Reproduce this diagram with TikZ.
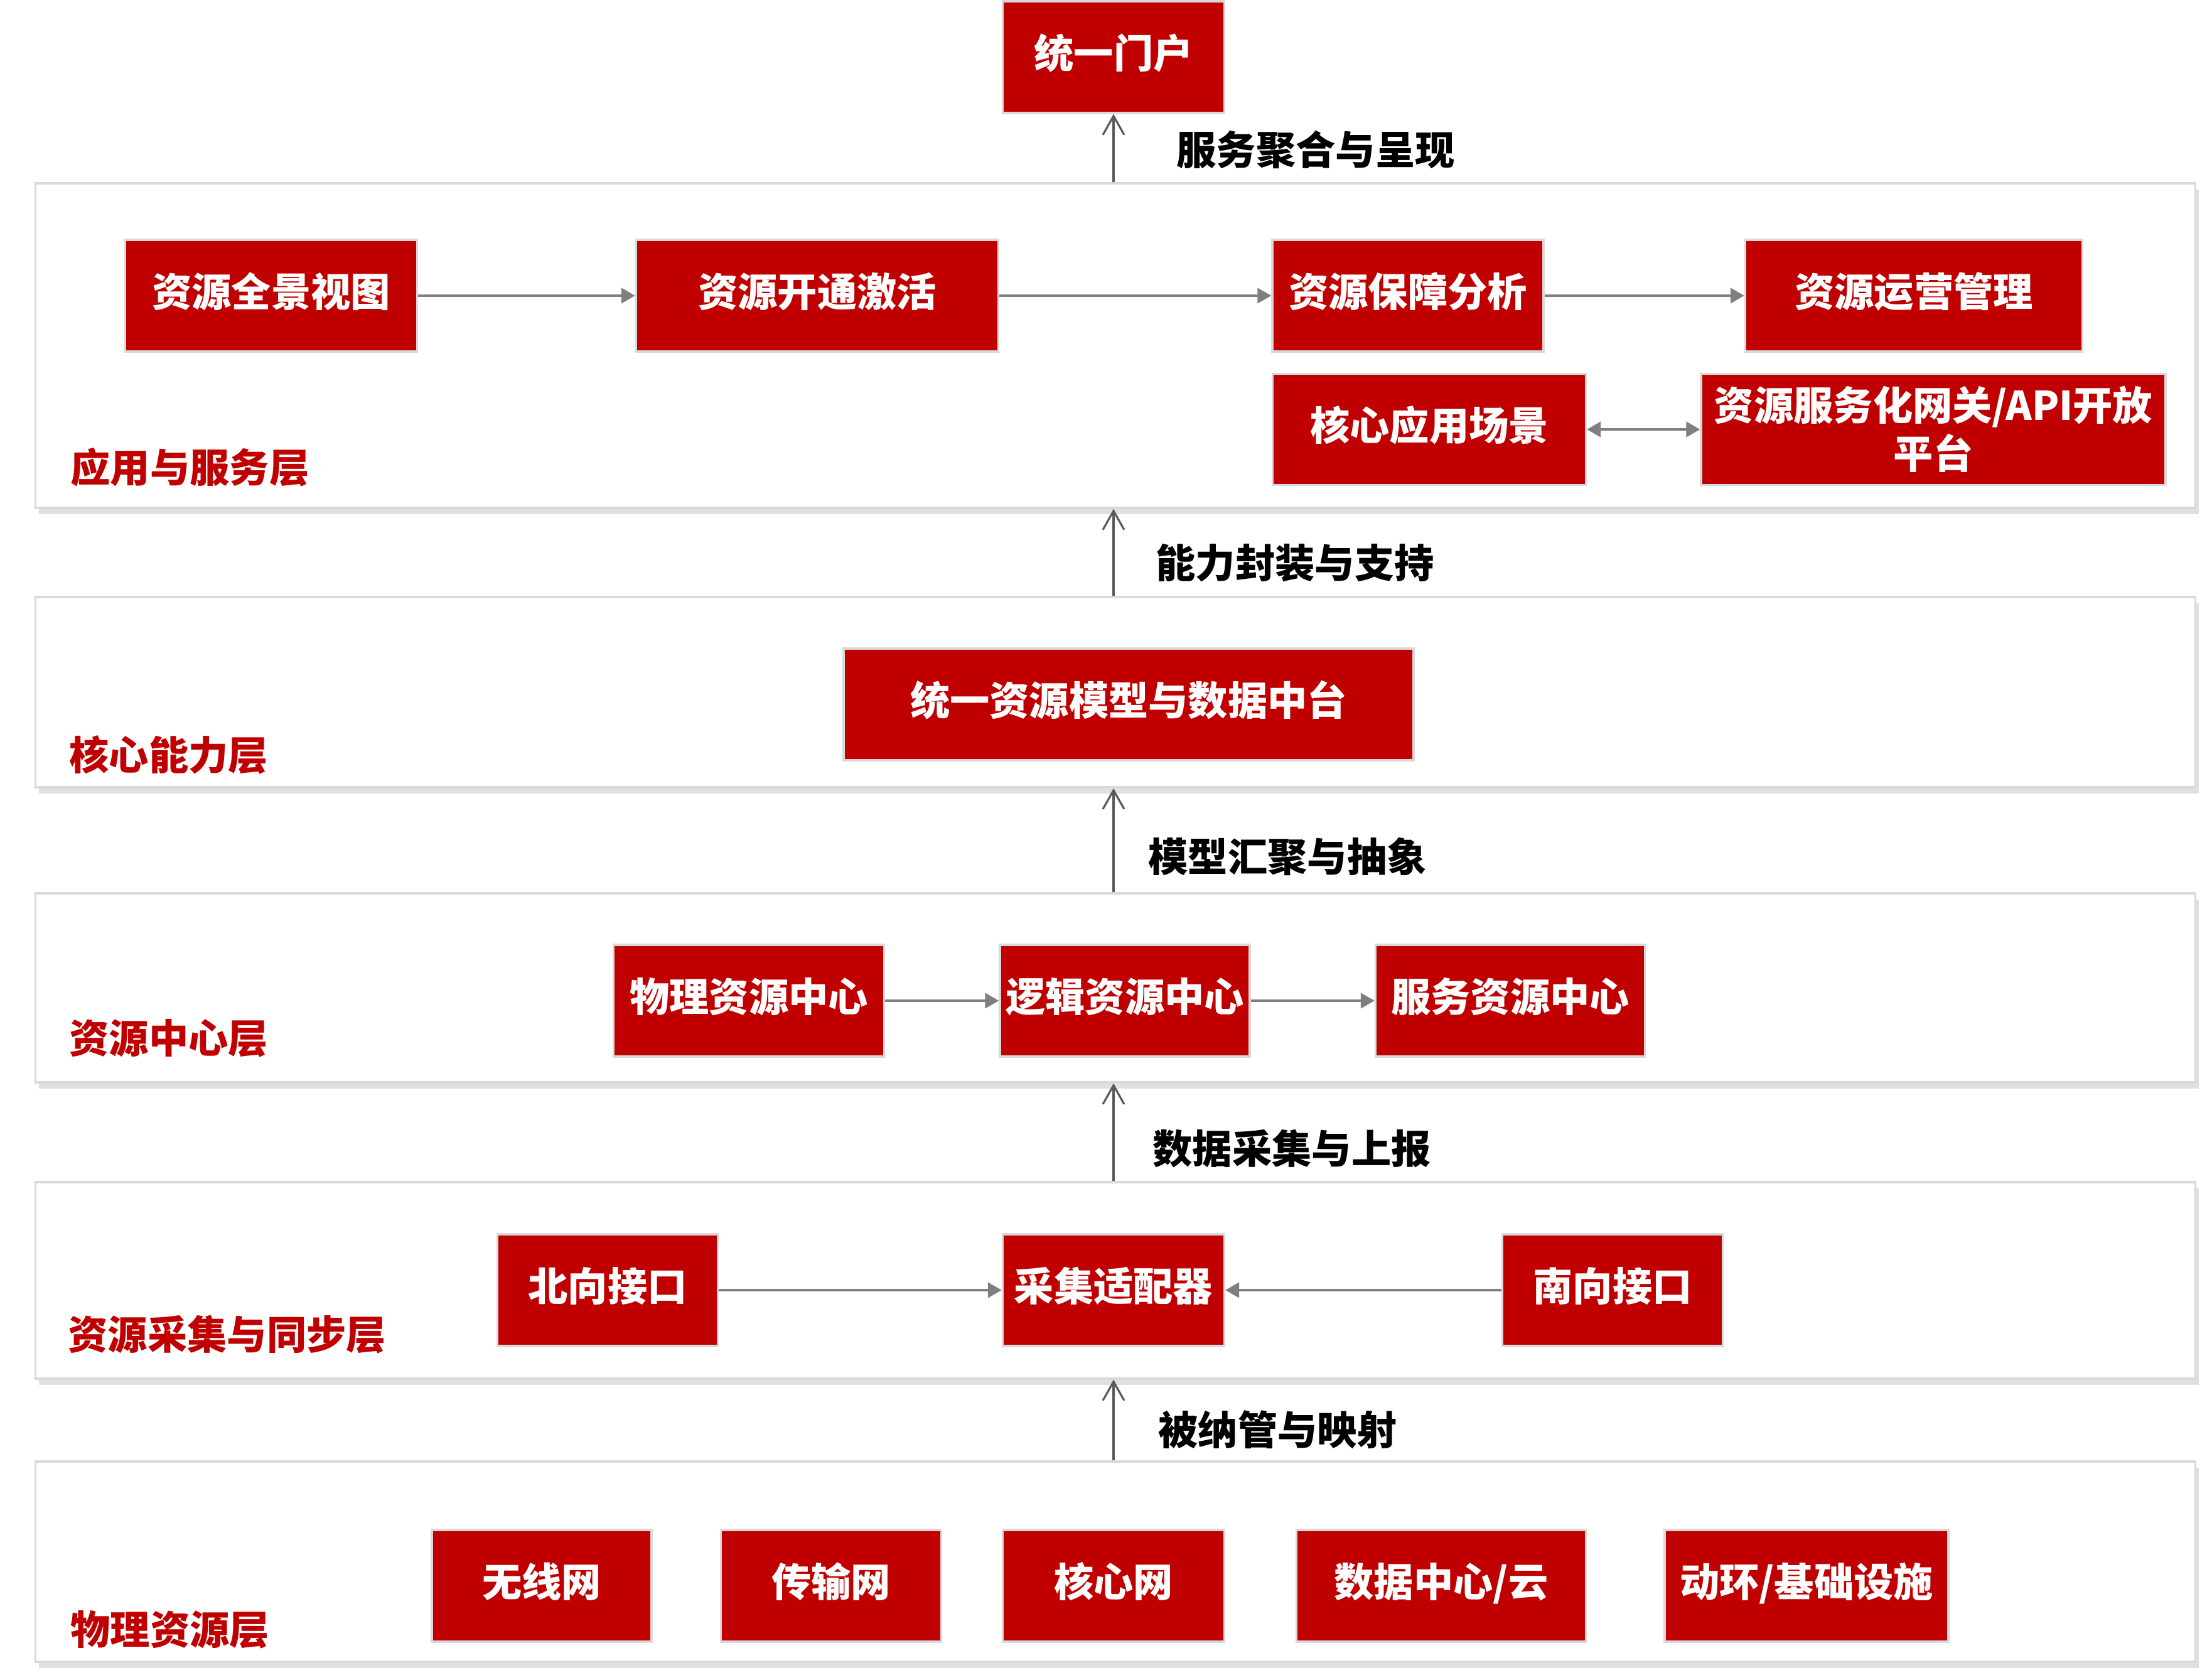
\documentclass[tikz,border=0pt]{standalone}
\usepackage{fontspec}
\setmainfont{Noto Sans CJK SC}[BoldFont={Noto Sans CJK SC Black}]
\usepackage{xcolor}
\usetikzlibrary{arrows.meta,shadows}

\definecolor{rojo}{HTML}{C00000}
\definecolor{borde}{HTML}{D9D9D9}
\definecolor{flechagris}{HTML}{7F7F7F}
\definecolor{oscuro}{HTML}{595959}

\begin{document}
\begin{tikzpicture}[
    font=\fontsize{18pt}{22pt}\selectfont\bfseries,
    capa/.style={draw=borde, line width=0.9pt, fill=white, minimum width=34.41cm,
        drop shadow={shadow xshift=0.05cm, shadow yshift=-0.1cm, fill=black, opacity=0.12}},
    caja/.style={draw=borde, line width=0.9pt, fill=rojo, text=white,
        minimum height=1.78cm, inner sep=0pt, align=center, text height=15.8pt, text depth=6pt},
    etiqueta/.style={text=rojo, anchor=west, inner sep=0pt},
    nota/.style={anchor=west, inner sep=0pt},
    flecha/.style={flechagris, line width=1.1pt, -{Triangle[length=0.22cm,width=0.24cm]}},
    doble/.style={flechagris, line width=1.1pt, {Triangle[length=0.22cm,width=0.24cm]}-{Triangle[length=0.22cm,width=0.24cm]}},
    subida/.style={oscuro, line width=0.9pt, -{Straight Barb[length=0.3cm,width=0.34cm]}}
]

    \useasboundingbox (0,0) rectangle (35.24,26.76);

    % capas
    \node[capa, minimum height=5.17cm] (l1) at (17.77,21.255) {};
    \node[capa, minimum height=3.03cm] (l2) at (17.77,15.735) {};
    \node[capa, minimum height=3.01cm] (l3) at (17.77,11.025) {};
    \node[capa, minimum height=3.13cm] (l4) at (17.77,6.365) {};
    \node[capa, minimum height=3.19cm] (l5) at (17.77,1.885) {};

    % nombres de las capas
    \node[etiqueta] (t1) at (1.12,19.32) {应用与服务层};
    \node[etiqueta] (t2) at (1.10,14.74) {核心能力层};
    \node[etiqueta] (t3) at (1.10,10.22) {资源中心层};
    \node[etiqueta] (t4) at (1.08,5.50) {资源采集与同步层};
    \node[etiqueta] (t5) at (1.12,0.80) {物理资源层};

    % portal
    \node[caja, minimum width=3.53cm] (portal) at (17.74,25.85) {统一门户};

    % aplicacion y servicio
    \node[caja, minimum width=4.65cm] (view) at (4.32,22.05) {资源全景视图};
    \node[caja, minimum width=5.77cm] (open) at (13.02,22.05) {资源开通激活};
    \node[caja, minimum width=4.32cm] (assure) at (22.43,22.05) {资源保障分析};
    \node[caja, minimum width=5.37cm] (ops) at (30.49,22.05) {资源运营管理};
    \node[caja, minimum width=4.99cm, minimum height=1.77cm] (scene) at (22.77,19.92) {核心应用场景};
    \node[caja, minimum width=7.40cm, minimum height=1.77cm, text height={}, text depth={}] (gw) at (30.80,19.92) {资源服务化网关/API开放\\平台};

    \draw[flecha] (view) -- (open);
    \draw[flecha] (open) -- (assure);
    \draw[flecha] (assure) -- (ops);
    \draw[doble] (scene) -- (gw);

    % nucleo
    \node[caja, minimum width=9.08cm] (hub) at (17.98,15.54) {统一资源模型与数据中台};

    % centro de recursos
    \node[caja, minimum width=4.31cm] (phy) at (11.93,10.82) {物理资源中心};
    \node[caja, minimum width=3.98cm] (logic) at (17.92,10.82) {逻辑资源中心};
    \node[caja, minimum width=4.29cm] (svc) at (24.06,10.82) {服务资源中心};

    \draw[flecha] (phy) -- (logic);
    \draw[flecha] (logic) -- (svc);

    % recoleccion
    \node[caja, minimum width=3.51cm] (north) at (9.68,6.21) {北向接口};
    \node[caja, minimum width=3.53cm] (adapt) at (17.74,6.21) {采集适配器};
    \node[caja, minimum width=3.51cm] (south) at (25.69,6.21) {南向接口};

    \draw[flecha] (north) -- (adapt);
    \draw[flecha] (south) -- (adapt);

    % recursos fisicos
    \node[caja, minimum width=3.50cm] (wl) at (8.63,1.50) {无线网};
    \node[caja, minimum width=3.51cm] (tx) at (13.24,1.50) {传输网};
    \node[caja, minimum width=3.53cm] (core) at (17.74,1.50) {核心网};
    \node[caja, minimum width=4.61cm] (dc) at (22.96,1.50) {数据中心/云};
    \node[caja, minimum width=4.52cm] (infra) at (28.78,1.50) {动环/基础设施};

    % flechas entre capas
    \draw[subida] (l1.north -| portal) -- (portal);
    \draw[subida] (l2.north -| portal) -- (l1.south -| portal);
    \draw[subida] (l3.north -| portal) -- (l2.south -| portal);
    \draw[subida] (l4.north -| portal) -- (l3.south -| portal);
    \draw[subida] (l5.north -| portal) -- (l4.south -| portal);

    %leyendas
    \node[nota] (n1) at (18.74,24.38) {服务聚合与呈现};
    \node[nota] (n2) at (18.41,17.79) {能力封装与支持};
    \node[nota] (n3) at (18.29,13.12) {模型汇聚与抽象};
    \node[nota] (n4) at (18.36,8.47) {数据采集与上报};
    \node[nota] (n5) at (18.45,3.99) {被纳管与映射};

\end{tikzpicture}
\end{document}
